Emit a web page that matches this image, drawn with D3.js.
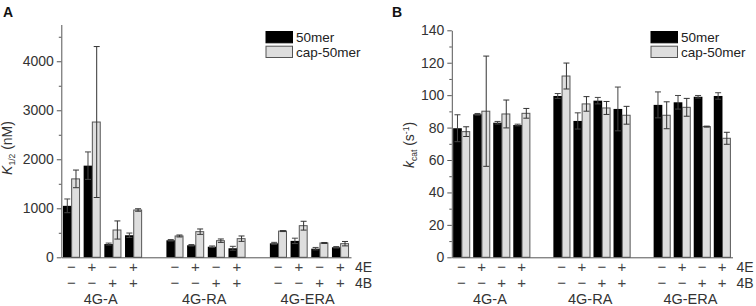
<!DOCTYPE html>
<html>
<head>
<meta charset="utf-8">
<script src="https://cdn.jsdelivr.net/npm/d3@7"></script>
<style>
  body { margin: 0; background: #fff; }
  svg { display: block; font-family: "Liberation Sans", Arial, sans-serif; }
  .axis path, .axis line { stroke: #555; }
  .axis text { fill: #333; font-size: 14px; font-family: "Liberation Sans", Arial, sans-serif; }
</style>
</head>
<body>
<div id="chart"></div>
<script>
// Condition rows under each pair of bars, and the three constructs
const signs4E = ["−", "+", "−", "+"];
const signs4B = ["−", "−", "+", "+"];
const groups = ["4G-A", "4G-RA", "4G-ERA"];
const seriesNames = ["50mer", "cap-50mer"];

// Panel A: K1/2 (nM), 12 conditions (3 groups x 4)
const kHalf50mer = [1050, 1870, 270, 450, 347, 245, 216, 184, 285, 335, 176, 204];
const kHalf50merErr = [140, 280, 20, 45, 15, 15, 15, 40, 20, 55, 25, 15];
const kHalfCap = [1600, 2760, 557, 965, 435, 523, 339, 380, 535, 645, 292, 278];
const kHalfCapErr = [180, 1540, 185, 25, 20, 55, 35, 55, 10, 90, 10, 45];

// Panel B: kcat (s-1)
const kcat50mer = [79.6, 88.2, 83, 81.6, 99.5, 84.1, 96.6, 91.5, 94, 95.6, 99, 99.5];
const kcat50merErr = [8.3, 0.5, 0.8, 0.5, 1.5, 5, 2, 13.5, 8, 4.2, 0.8, 2];
const kcatCap = [77.5, 90.1, 88.4, 88.8, 111.8, 94.6, 92.1, 87.6, 87.6, 92.5, 80.6, 73.4];
const kcatCapErr = [3, 34, 8.6, 3, 8, 4.5, 4, 5.5, 8.3, 5.5, 0.3, 3.7];

const ticksA = [0, 1000, 2000, 3000, 4000];
const minorA = [500, 1500, 2500, 3500, 4500];
const ticksB = [0, 20, 40, 60, 80, 100, 120, 140];
const minorB = [10, 30, 50, 70, 90, 110, 130];

const width = 756, height = 306;
const svg = d3.select("#chart").append("svg")
  .attr("width", width).attr("height", height);

const fills = ["#000", "#dedede"];
const strokes = ["#000", "#555"];

function drawPanel(opts) {
  const g = svg.append("g");
  const x = d3.scaleLinear().domain([-0.5, 13.5]).range(opts.xRange);
  const y = d3.scaleLinear().domain(opts.yDomain).range([257.3, opts.yTop]);
  const barW = 8.7;

  // rows: one record per condition
  const rows = opts.values[0].map((_, i) => {
    const grp = Math.floor(i / 4), c = i % 4;
    return { i, grp, c, slot: grp * 5 + c };
  });

  // y axis: majors and minors
  g.append("g").attr("class", "axis")
    .attr("transform", `translate(${opts.xRange[0]},0)`)
    .call(d3.axisLeft(y).tickValues(opts.ticks).tickFormat(d3.format("d"))
      .tickSize(4.5).tickSizeOuter(0).tickPadding(3));
  g.append("g").attr("class", "axis minor")
    .attr("transform", `translate(${opts.xRange[0]},0)`)
    .call(d3.axisLeft(y).tickValues(opts.minor).tickSize(2.5).tickSizeOuter(0).tickFormat(""))
    .select(".domain").remove();

  // bars
  [0, 1].forEach((s) => {
    g.append("g").selectAll("rect").data(rows).join("rect")
      .attr("x", (d) => x(d.slot) - barW + s * barW)
      .attr("y", (d) => y(opts.values[s][d.i]))
      .attr("width", barW - (s ? 0.8 : 0))
      .attr("height", (d) => y(0) - y(opts.values[s][d.i]))
      .attr("fill", fills[s])
      .attr("stroke", strokes[s])
      .attr("stroke-width", s ? 1 : 0);
  });

  // error bars
  [0, 1].forEach((s) => {
    const eg = g.append("g").attr("stroke", s ? "#333" : "#444").attr("stroke-width", 1).attr("fill", "none");
    const cx = (d) => x(d.slot) - barW / 2 + s * barW;
    const lo = (d) => y(Math.max(0, opts.values[s][d.i] - opts.errors[s][d.i]));
    const hi = (d) => y(opts.values[s][d.i] + opts.errors[s][d.i]);
    eg.selectAll("path").data(rows).join("path")
      .attr("d", (d) => `M${cx(d)},${lo(d)}V${hi(d)}` +
        `M${cx(d) - 3},${hi(d)}H${cx(d) + 3}M${cx(d) - 3},${lo(d)}H${cx(d) + 3}`);
  });

  // x axis, no ticks
  g.append("g").attr("class", "axis")
    .attr("transform", `translate(0,${y(0)})`)
    .call(d3.axisBottom(x).tickValues([]).tickSizeOuter(0));

  // condition signs
  const signRow = (signs, yy) => {
    g.append("g").selectAll("text").data(rows).join("text")
      .attr("x", (d) => x(d.slot) - barW / 2 + 4)
      .attr("y", yy)
      .attr("text-anchor", "middle")
      .attr("font-size", 15)
      .attr("fill", "#444")
      .text((d) => signs[d.c]);
  };
  signRow(signs4E, 272);
  signRow(signs4B, 287.5);
  g.append("text").attr("x", opts.xRange[1] + 4).attr("y", 272)
    .attr("font-size", 14).attr("fill", "#333").text("4E");
  g.append("text").attr("x", opts.xRange[1] + 4).attr("y", 287.5)
    .attr("font-size", 14).attr("fill", "#333").text("4B");

  g.append("g").selectAll("text").data(groups).join("text")
    .attr("x", (d, i) => x(i * 5 + 1.5) - 2)
    .attr("y", 303.5)
    .attr("text-anchor", "middle")
    .attr("font-size", 14.5)
    .attr("fill", "#333")
    .text((d) => d);

  // legend
  const lg = g.append("g").attr("transform", `translate(${opts.legendX},31)`);
  seriesNames.forEach((name, s) => {
    lg.append("rect").attr("x", 0.5).attr("y", s * 14.7 + 0.5)
      .attr("width", 26.5).attr("height", 11.3)
      .attr("fill", fills[s]).attr("stroke", s ? "#555" : "#000");
    lg.append("text").attr("x", 30.5).attr("y", s * 14.7 + 11.3)
      .attr("font-size", 13.5).attr("fill", "#222").text(name);
  });

  // panel letter
  g.append("text").attr("x", opts.letterX).attr("y", 17)
    .attr("font-size", 14).attr("font-weight", "bold").attr("fill", "#111").text(opts.letter);

  // y title
  const t = g.append("text")
    .attr("transform", `translate(${opts.titleX},${opts.titleY}) rotate(-90)`)
    .attr("text-anchor", "middle").attr("font-size", 14).attr("fill", "#333");
  opts.title(t);
}

drawPanel({
  xRange: [61.3, 351],
  yDomain: [0, 4750],
  yTop: 24.5,
  ticks: ticksA,
  minor: minorA,
  values: [kHalf50mer, kHalfCap],
  errors: [kHalf50merErr, kHalfCapErr],
  legendX: 265.5,
  letter: "A",
  letterX: 3,
  titleX: 12,
  titleY: 148,
  title: (t) => {
    t.append("tspan").attr("font-style", "italic").text("K");
    t.append("tspan").attr("font-size", 8.5).attr("dy", 3).text("1/2");
    t.append("tspan").attr("dy", -3).text(" (nM)");
  }
});

drawPanel({
  xRange: [451.8, 732.5],
  yDomain: [0, 140],
  yTop: 30.3,
  ticks: ticksB,
  minor: minorB,
  values: [kcat50mer, kcatCap],
  errors: [kcat50merErr, kcatCapErr],
  legendX: 650.5,
  letter: "B",
  letterX: 392,
  titleX: 414,
  titleY: 145,
  title: (t) => {
    t.append("tspan").attr("font-style", "italic").text("k");
    t.append("tspan").attr("font-size", 8.5).attr("dy", 3).text("cat");
    t.append("tspan").attr("dy", -3).text(" (s");
    t.append("tspan").attr("font-size", 8.5).attr("dy", -5).text("-1");
    t.append("tspan").attr("dy", 5).text(")");
  }
});
</script>
</body>
</html>
